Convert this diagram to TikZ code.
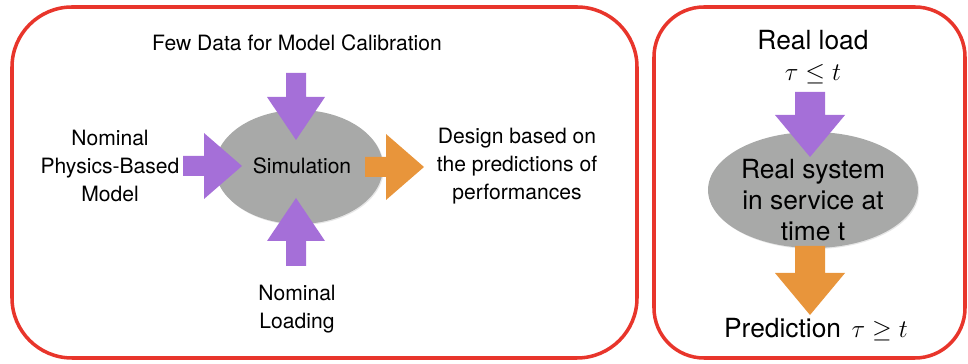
\documentclass[tikz,border=0pt]{standalone}
\usepackage{amsmath, amssymb}
\usepackage{fontspec}
\setmainfont{TeX Gyre Heros}
\usepackage{tikz}
\usetikzlibrary{calc,shapes.geometric,shadows}
\definecolor{framered}{HTML}{E8352B}
\definecolor{simgray}{HTML}{A8A9A8}
\definecolor{inpurple}{HTML}{A56FD8}
\definecolor{outorange}{HTML}{E8953B}
% block arrow: tail, angle, length, head length, shaft half width, head half width, colour
\newcommand{\fatarrow}[7]{%
    \fill[#7, shift={#1}, rotate=#2] (0,-#5) -- (#3-#4,-#5) -- (#3-#4,-#6) -- (#3,0)
        -- (#3-#4,#6) -- (#3-#4,#5) -- (0,#5) -- cycle;}

\begin{document}
\begin{tikzpicture}[x=0.02cm, y=-0.02cm,
    frame/.style={draw=framered, line width=2pt},
    blob/.style={ellipse, fill=simgray, inner sep=0pt,
        drop shadow={opacity=0.2, shadow xshift=0.6pt, shadow yshift=-0.6pt}},
    small/.style={font=\fontsize{12}{16}\selectfont, align=center},
    big/.style={font=\fontsize{15}{17.5}\selectfont, align=center}]
    \useasboundingbox (0,0) rectangle (968,364);

    % frames
    \draw[frame, rounded corners=1.2cm] (12,7) rectangle (637,358);
    \draw[frame, rounded corners=1cm] (654,7) rectangle (965,358);

    % left: simulation
    \node[blob, small, minimum width=3.36cm, minimum height=2.28cm] (sim) at (299,167) {};
    \coordinate (calibin) at (296,73);
    \coordinate (loadin) at (296,266);
    \coordinate (modelin) at (183,166);
    \coordinate (designout) at (365,167);
    \fatarrow{(calibin)}{-90}{67}{43}{10}{29}{inpurple}
    \fatarrow{(loadin)}{90}{68}{43}{10}{29}{inpurple}
    \fatarrow{(modelin)}{0}{59}{38}{10}{33}{inpurple}
    \fatarrow{(designout)}{0}{59}{38}{10}{33}{outorange}
    \node[small] (simtext) at (302,166) {Simulation};
    \node[small] (calib) at (297,43) {Few Data for Model Calibration};
    \node[small] (model) at (110,166) {Nominal\\Physics-Based\\Model};
    \node[small] (design) at (517,166) {Design based on\\the predictions of\\performances};
    \node[small] (load) at (297,309) {Nominal\\Loading};

    % right: real system
    \node[blob, minimum width=4.2cm, minimum height=2.32cm] (sys) at (813,190) {};
    \coordinate (realin) at (810,92);
    \coordinate (predout) at (810,246);
    \fatarrow{(realin)}{-90}{65}{42}{15}{35}{inpurple}
    \fatarrow{(predout)}{-90}{69}{42}{15}{35}{outorange}
    \node[big] (systext) at (813,200) {Real system\\in service at\\time t};
    \node[big, font=\fontsize{15}{17.6}\selectfont] (realload) at (813,57) {Real load\\$\tau \leq t$};
    \node[big] (pred) at (816,330) {Prediction\hspace{6pt}$\tau \geq t$};
\end{tikzpicture}
\end{document}
